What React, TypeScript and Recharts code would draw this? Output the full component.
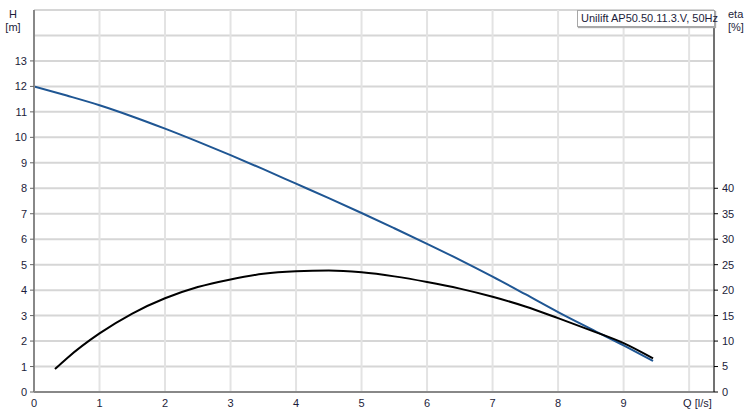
import React from 'react';
import { ComposedChart, Line, XAxis, YAxis, CartesianGrid } from 'recharts';

// pump curve
const qHead = [0, 0.5, 1, 1.5, 2, 2.5, 3, 3.5, 4, 4.5, 5, 5.5, 6, 6.5, 7, 7.5, 8, 8.5, 9, 9.45];
const head = [12.0, 11.64, 11.26, 10.82, 10.34, 9.83, 9.3, 8.75, 8.18, 7.61, 7.03, 6.43, 5.82, 5.19, 4.53, 3.84, 3.14, 2.48, 1.83, 1.22];

const qEta = [0.32, 0.5, 1, 1.5, 2, 2.5, 3, 3.5, 4, 4.5, 5, 5.5, 6, 6.5, 7, 7.5, 8, 8.5, 9, 9.45];
const eta = [4.5, 6.6, 11.5, 15.4, 18.4, 20.6, 22.1, 23.2, 23.7, 23.85, 23.5, 22.7, 21.6, 20.3, 18.7, 16.8, 14.5, 12.1, 9.6, 6.6];

const qTicks = [0, 1, 2, 3, 4, 5, 6, 7, 8, 9, 10];
const hTicks = [0, 1, 2, 3, 4, 5, 6, 7, 8, 9, 10, 11, 12, 13, 14];
const etaTicks = [0, 5, 10, 15, 20, 25, 30, 35, 40];

const title = 'Unilift AP50.50.11.3.V, 50Hz';

const headData = qHead.map((q, i) => ({ q, h: head[i] }));
const etaData = qEta.map((q, i) => ({ q, eta: eta[i] }));

const FONT = '"Liberation Sans", Arial, sans-serif';
const TXT = '#1c1c3a';

// left axis tick: dash + label, nothing above 13
const HeadTick = (props: any) => {
  const { x, y, payload } = props;
  if (payload.value > 13) return null;
  return (
    <g>
      <line x1={x + 3} x2={x + 7} y1={y} y2={y} stroke="#666" strokeWidth={1} />
      <text x={x} y={y} dy={4} textAnchor="end" fontSize={11} fontFamily={FONT} fill={TXT}>
        {payload.value}
      </text>
    </g>
  );
};

const QTick = (props: any) => {
  const { x, y, payload } = props;
  const last = payload.value === 10;
  return (
    <text x={last ? x - 6 : x} y={y} dy={9} textAnchor={last ? 'start' : 'middle'} fontSize={11} fontFamily={FONT} fill={TXT}>
      {last ? 'Q [l/s]' : payload.value}
    </text>
  );
};

export default function App() {
  return (
    <div style={{ position: 'fixed', left: 0, top: 0, width: 749, height: 409, background: '#fff', fontFamily: FONT }}>
      <ComposedChart width={749} height={409} margin={{ top: 10, right: 0, bottom: 0, left: 0 }}>
        <CartesianGrid yAxisId="h" vertical={false} stroke="#d6d6d6" strokeWidth={2} />
        <CartesianGrid yAxisId="h" horizontal={false} stroke="#e3e3e3" strokeWidth={2} />
        <XAxis
          type="number"
          dataKey="q"
          domain={[0, 10.38]}
          ticks={qTicks}
          allowDataOverflow
          height={17}
          tickLine={false}
          tickSize={4}
          tickMargin={2}
          axisLine={{ stroke: '#888', strokeWidth: 2 }}
          tick={<QTick />}
        />
        <YAxis
          yAxisId="h"
          type="number"
          domain={[0, 15]}
          ticks={hTicks}
          allowDataOverflow
          width={34}
          tickLine={false}
          tickSize={4}
          tickMargin={3}
          axisLine={{ stroke: '#888', strokeWidth: 2 }}
          tick={<HeadTick />}
        />
        <YAxis
          yAxisId="eta"
          orientation="right"
          type="number"
          domain={[0, 75]}
          ticks={etaTicks}
          allowDataOverflow
          width={35}
          tickSize={4}
          tickMargin={4}
          axisLine={{ stroke: '#000' }}
          tickLine={{ stroke: '#000' }}
          tick={{ fontSize: 11, fontFamily: FONT, fill: TXT }}
        />
        <Line
          yAxisId="h"
          data={headData}
          dataKey="h"
          type="monotone"
          stroke="#1f5693"
          strokeWidth={2}
          dot={false}
          isAnimationActive={false}
        />
        <Line
          yAxisId="eta"
          data={etaData}
          dataKey="eta"
          type="monotone"
          stroke="#000"
          strokeWidth={2}
          dot={false}
          isAnimationActive={false}
        />
      </ComposedChart>
      <div style={{ position: 'absolute', left: 2, top: 8, width: 22, textAlign: 'center', fontSize: 11, color: TXT, lineHeight: '13px' }}>
        H<br />[m]
      </div>
      <div style={{ position: 'absolute', left: 728, top: 8, fontSize: 11, color: TXT, lineHeight: '13px' }}>
        eta<br />[%]
      </div>
      <div
        style={{
          position: 'absolute',
          left: 577,
          top: 10,
          width: 133,
          height: 15,
          paddingLeft: 3,
          border: '1px solid #a8a8a8',
          boxShadow: '1px 1px 1px #aaa',
          background: '#fff',
          fontSize: 11,
          lineHeight: '15px',
          color: TXT,
          whiteSpace: 'nowrap',
        }}
      >
        {title}
      </div>
    </div>
  );
}
